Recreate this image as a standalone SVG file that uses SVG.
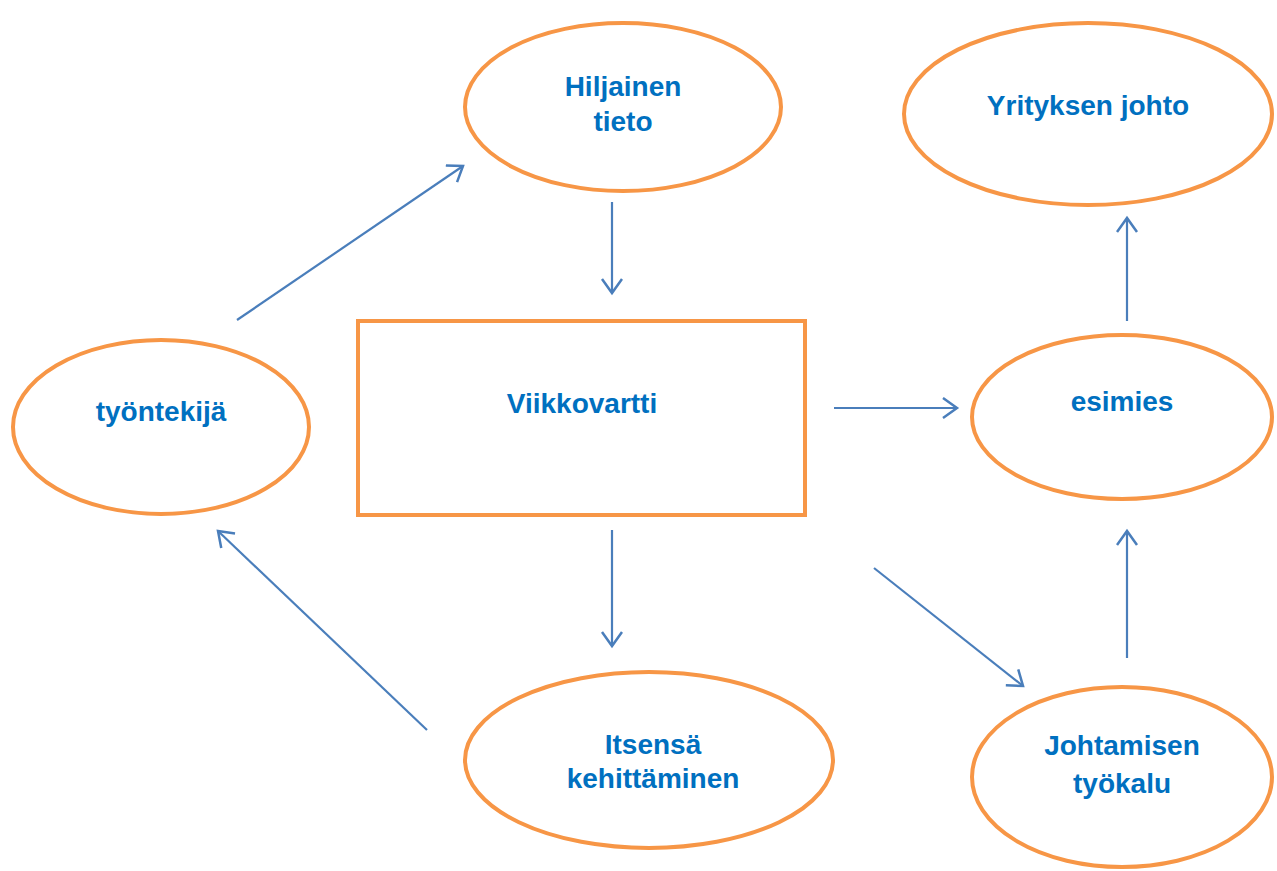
<svg xmlns="http://www.w3.org/2000/svg" width="1277" height="871" viewBox="0 0 1277 871">
<style>
.n{fill:#fff;stroke:#f79646;stroke-width:4}
.t{font-family:"Liberation Sans",Arial,sans-serif;font-weight:bold;font-size:28px;fill:#0070c0;text-anchor:middle}
.c{stroke:#4a7ebb;stroke-width:2.2;fill:none;marker-end:url(#a)}
</style>
<defs>
<marker id="a" markerWidth="20" markerHeight="24" refX="16" refY="11" orient="auto" markerUnits="userSpaceOnUse">
<path d="M2,1 L16,11 L2,21" fill="none" stroke="#4a7ebb" stroke-width="2.5"/>
</marker>
</defs>
<rect width="1277" height="871" fill="#fff"/>
<g id="hiljainen"><ellipse class="n" cx="623" cy="107" rx="158" ry="84"/><text class="t" x="623" y="96">Hiljainen</text><text class="t" x="623" y="131">tieto</text></g>
<g id="yrityksen"><ellipse class="n" cx="1088" cy="114" rx="184" ry="91"/><text class="t" x="1088" y="115">Yrityksen johto</text></g>
<g id="tyontekija"><ellipse class="n" cx="161" cy="427" rx="148" ry="87"/><text class="t" x="161" y="421">työntekijä</text></g>
<g id="viikkovartti"><rect class="n" x="358" y="321" width="447" height="194"/><text class="t" x="582" y="413">Viikkovartti</text></g>
<g id="esimies"><ellipse class="n" cx="1122" cy="417" rx="150" ry="82"/><text class="t" x="1122" y="411">esimies</text></g>
<g id="itsensa"><ellipse class="n" cx="649" cy="760" rx="184" ry="88"/><text class="t" x="653" y="754">Itsensä</text><text class="t" x="653" y="788">kehittäminen</text></g>
<g id="johtamisen"><ellipse class="n" cx="1122" cy="777" rx="150" ry="90"/><text class="t" x="1122" y="755">Johtamisen</text><text class="t" x="1122" y="793">työkalu</text></g>
<g id="connectors">
<line class="c" x1="237" y1="320" x2="463" y2="166"/>
<line class="c" x1="612" y1="202" x2="612" y2="293"/>
<line class="c" x1="834" y1="408" x2="957" y2="408"/>
<line class="c" x1="1127" y1="321" x2="1127" y2="218"/>
<line class="c" x1="1127" y1="658" x2="1127" y2="531"/>
<line class="c" x1="874" y1="568" x2="1023" y2="686"/>
<line class="c" x1="612" y1="530" x2="612" y2="646"/>
<line class="c" x1="427" y1="730" x2="218" y2="531"/>
</g>
</svg>
